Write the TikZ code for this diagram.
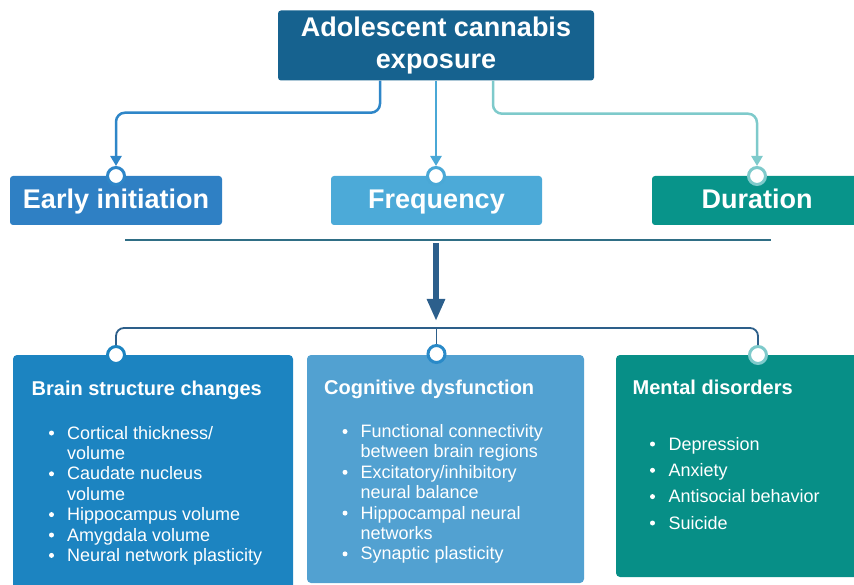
\documentclass[tikz,border=0pt]{standalone}
\usepackage{fontspec}
\setmainfont{Liberation Sans}
\usetikzlibrary{arrows.meta}
\definecolor{topc}{HTML}{16628F}
\definecolor{earlyc}{HTML}{2F80C4}
\definecolor{freqc}{HTML}{4CAAD8}
\definecolor{durc}{HTML}{08948A}
\definecolor{lineA}{HTML}{2E86C8}
\definecolor{lineB}{HTML}{4AA8D6}
\definecolor{lineC}{HTML}{7ECACB}
\definecolor{hlinec}{HTML}{2F6E85}
\definecolor{arrowc}{HTML}{2C5F8C}
\definecolor{bracketc}{HTML}{2D5F8A}
\definecolor{boxA}{HTML}{1C84C1}
\definecolor{boxB}{HTML}{52A1D1}
\definecolor{boxC}{HTML}{078F87}
\definecolor{ringB}{HTML}{2A8AC8}
\tikzset{
  midbox/.style={minimum width=#1, minimum height=49pt, inner sep=0pt, rounded corners=3pt,
    text=white, font=\fontsize{27}{31}\selectfont\bfseries, text height=21pt, text depth=5pt},
  bigbox/.style={rounded corners=4pt},
  ring/.style={circle, minimum size=17pt, inner sep=0pt, line width=3pt, fill=white},
  conn/.style={line width=2.5pt, rounded corners=9pt, -{Triangle[length=10pt,width=11pt]}},
  head/.style={anchor=base west, inner sep=0pt, text=white, font=\fontsize{20}{24}\selectfont\bfseries},
  item/.style={anchor=base west, inner sep=0pt, text=white, font=\fontsize{18}{20}\selectfont},
  bul/.style={fill=white},
}
\begin{document}
\begin{tikzpicture}[x=1pt,y=-1pt]
\useasboundingbox (0,0) rectangle (854,585);
\clip (0,0) rectangle (854,585);

% top box
\node[fill=topc, rounded corners=3pt, minimum width=316pt, minimum height=70pt, inner sep=0pt,
  text=white, align=center, font=\fontsize{27}{31.5}\selectfont\bfseries] (expo) at (436,45.5)
  {Adolescent cannabis\\exposure};

% middle row boxes
\node[midbox=212pt, fill=earlyc] (early) at (116,200.5) {Early initiation};
\node[midbox=211pt, fill=freqc] (freq) at (436.5,200.5) {Frequency};
\node[midbox=210pt, fill=durc] (dur) at (757,200.5) {Duration};

% ring markers on middle boxes
\node[ring, draw=lineA] (c1) at (116,176) {};
\node[ring, draw=lineB] (c2) at (436,176) {};
\node[ring, draw=lineC] (c3) at (757,176) {};

% connectors from top
\draw[conn, lineA] ([xshift=-56pt]expo.south) -- ++(0,32) -| (c1.north);
\draw[conn, lineB] (expo.south) -- (c2.north);
\draw[conn, lineC] ([xshift=57pt]expo.south) -- ++(0,33) -| (c3.north);

% divider line
\draw[hlinec, line width=2.8pt] (125,240) -- (771,240);

% big arrow
\coordinate (astart) at (436,243);
\coordinate (aend) at (436,321);
\draw[arrowc, line width=5.5pt, -{Triangle[length=22pt,width=17pt]}] (astart) -- (aend);

% bottom boxes
\fill[boxA, bigbox] (13,355) rectangle (293,600);
\fill[boxB, bigbox] (307,355) rectangle (584,583);
\fill[boxC, bigbox] (616,355) rectangle (870,577);

% bottom rings
\node[ring, draw=boxA] (b1) at (116,355) {};
\node[ring, draw=ringB] (b2) at (436.5,354) {};
\node[ring, draw=lineC] (b3) at (758,355) {};

% bracket
\coordinate (br) at (436.5,328);
\draw[bracketc, line width=1.8pt, rounded corners=8pt] (b1.north) |- (br) -| (b3.north);
\draw[bracketc, line width=1pt] (br) -- (b2.north);

% box 1 text
\node[head] at (31.5,395.5) {Brain structure changes};
\node[item] at (67,439) {Cortical thickness/};
\node[item] at (67,459.4) {volume};
\node[item] at (67,479.8) {Caudate nucleus};
\node[item] at (67,500.2) {volume};
\node[item] at (67,520.6) {Hippocampus volume};
\node[item] at (67,541) {Amygdala volume};
\node[item] at (67,561.4) {Neural network plasticity};
\foreach \y in {439,479.8,520.6,541,561.4} \fill[bul] (51.5,\y-6) circle (2.5pt);

% box 2 text
\node[head] at (324,394.5) {Cognitive dysfunction};
\node[item] at (360.5,437.5) {Functional connectivity};
\node[item] at (360.5,457.9) {between brain regions};
\node[item] at (360.5,478.3) {Excitatory/inhibitory};
\node[item] at (360.5,498.7) {neural balance};
\node[item] at (360.5,519.1) {Hippocampal neural};
\node[item] at (360.5,539.5) {networks};
\node[item] at (360.5,559.9) {Synaptic plasticity};
\foreach \y in {437.5,478.3,519.1,559.9} \fill[bul] (345,\y-6) circle (2.5pt);

% box 3 text
\node[head] at (632.5,394.5) {Mental disorders};
\node[item] at (668.3,450) {Depression};
\node[item] at (668.3,476.3) {Anxiety};
\node[item] at (668.3,502.6) {Antisocial behavior};
\node[item] at (668.3,529) {Suicide};
\foreach \y in {450,476.3,502.6,529} \fill[bul] (652.5,\y-6) circle (2.5pt);
\end{tikzpicture}
\end{document}
